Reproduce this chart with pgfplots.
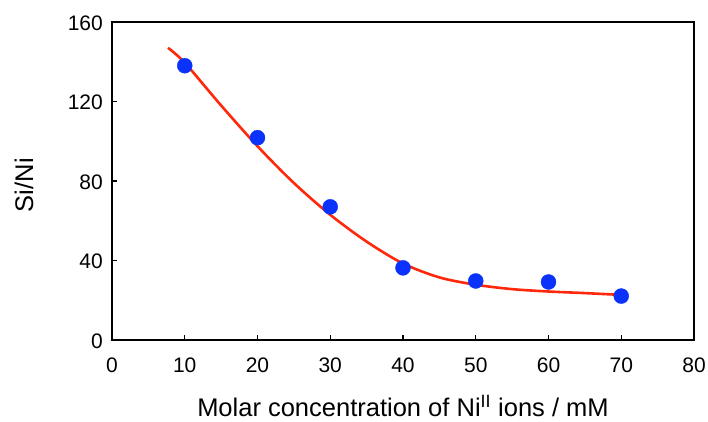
\documentclass[border=0pt]{standalone}
\usepackage{fontspec}
\setmainfont{Liberation Sans}
\usepackage{pgfplots}
\pgfplotsset{compat=1.18}
\definecolor{ptblue}{RGB}{10,50,250}
\definecolor{curvered}{RGB}{255,40,10}
\begin{document}
\begin{tikzpicture}
\begin{axis}[
  scale only axis,
  width=582pt, height=318pt,
  xmin=0, xmax=80, ymin=0, ymax=160,
  xtick={0,10,...,80}, ytick={0,40,...,160},
  tick align=inside,
  xtick pos=bottom, ytick pos=left,
  major tick length=5pt,
  axis line style={line width=1.5pt},
  every tick/.style={black, line width=1.3pt},
  tick label style={font=\fontsize{21}{23}\selectfont, inner sep=0pt},
  xticklabel style={anchor=base, yshift=-32pt},
  yticklabel style={anchor=base east, xshift=-9pt, yshift=-8pt},
  /pgf/number format/assume math mode=true,
  xlabel={Molar concentration of Ni\textsuperscript{II} ions / mM},
  ylabel={Si/Ni},
  every axis x label/.style={at={(axis description cs:0.5,-0.242)}, anchor=base, font=\fontsize{25.5}{27}\selectfont, inner sep=0pt},
  every axis y label/.style={at={(axis description cs:-0.1357,0.487)}, rotate=90, anchor=base, font=\fontsize{25.5}{27}\selectfont, inner sep=0pt},
  clip=false,
]
\addplot[curvered, line width=2.6pt, smooth] coordinates {
(7.7,147) (10,139.5) (15,118) (20,97.5) (25,79) (30,63) (35,49.5) (40,38.5) (45,31.5) (50,27.8) (55,25.6) (60,24.4) (65,23.6) (70.5,22.6)
};
\addplot[only marks, mark=*, mark size=7.5pt, mark options={ptblue, fill=ptblue, draw=ptblue}] coordinates {
(10,138) (20,101.8) (30,67) (40,36.3) (50,29.7) (60,29.2) (70,22.1)
};
\end{axis}
\path (current axis.south west) ++(-112pt,-81pt) coordinate (bl);
\path (current axis.north east) ++(14pt,22pt) coordinate (tr);
\path[use as bounding box] (bl) rectangle (tr);
\end{tikzpicture}
\end{document}
